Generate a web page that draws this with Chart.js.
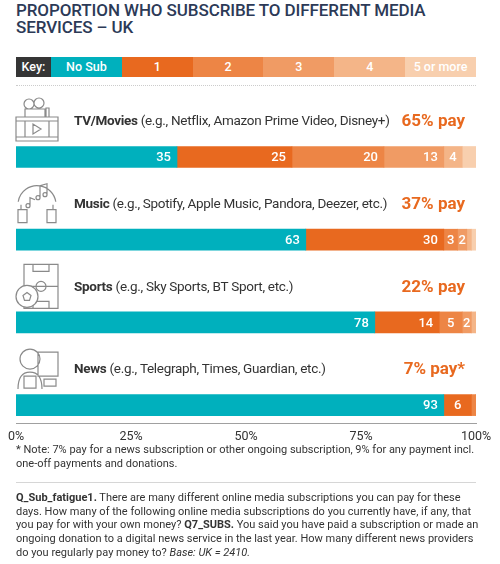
<!DOCTYPE html>
<html lang="en">
<head>
    <meta charset="UTF-8">
    <title>Proportion who subscribe to different media services - UK</title>
    <script src="https://cdn.jsdelivr.net/npm/chart.js@4/dist/chart.umd.min.js"></script>
    <style>
        html, body { margin: 0; padding: 0; background: #fff; }
        body { width: 500px; height: 564px; position: relative; overflow: hidden; font-family: Roboto, sans-serif; color: #333; }
        .title { position: absolute; left: 16px; top: 2px; font-size: 17px; font-weight: 500; line-height: 17px; color: #2c3a57; letter-spacing: -0.1px; }
        .key { position: absolute; left: 16px; top: 57px; width: 460px; height: 20px; display: flex; }
        .key div { height: 20px; line-height: 20px; text-align: center; color: #fff; font-size: 12.5px; font-weight: 500; }
        .dots { position: absolute; left: 16px; top: 85px; width: 460px; border-top: 1px dotted #ccc; }
        .wrap { position: absolute; left: 0; top: 88px; width: 500px; height: 354px; }
        .note { position: absolute; left: 16px; top: 443px; font-size: 11px; line-height: 14px; white-space: nowrap; }
        .rule { position: absolute; left: 16px; top: 482px; width: 460px; border-top: 1px solid #d6d6d6; }
        .source { position: absolute; left: 16px; top: 491px; font-size: 11px; line-height: 13.7px; white-space: nowrap; }
    </style>
</head>
<body>
<div class="title">PROPORTION WHO SUBSCRIBE TO DIFFERENT MEDIA<br>SERVICES – UK</div>
<div class="key" id="key"></div>
<div class="dots"></div>
<div class="wrap"><canvas id="chart"></canvas></div>
<div class="note">* Note: 7% pay for a news subscription or other ongoing subscription, 9% for any payment incl.<br>one-off payments and donations.</div>
<div class="rule"></div>
<div class="source"><b>Q_Sub_fatigue1.</b> There are many different online media subscriptions you can pay for these<br>days. How many of the following online media subscriptions do you currently have, if any, that<br>you pay for with your own money? <b>Q7_SUBS.</b> You said you have paid a subscription or made an<br>ongoing donation to a digital news service in the last year. How many different news providers<br>do you regularly pay money to? <i>Base: UK = 2410.</i></div>

<script type="text/javascript">
    // categories and texts
    var categories = ['TV/Movies', 'Music', 'Sports', 'News'];
    var examples = ['(e.g., Netflix, Amazon Prime Video, Disney+)',
        '(e.g., Spotify, Apple Music, Pandora, Deezer, etc.)',
        '(e.g., Sky Sports, BT Sport, etc.)',
        '(e.g., Telegraph, Times, Guardian, etc.)'];
    var payLabels = ['65% pay', '37% pay', '22% pay', '7% pay*'];

    // series (% of respondents)
    var seriesNames = ['No Sub', '1', '2', '3', '4', '5 or more'];
    var noSub = [35, 63, 78, 93];
    var one = [25, 30, 14, 6];
    var two = [20, 3, 5, 1];
    var three = [13, 2, 2, 0];
    var four = [4, 1, 1, 0];
    var fiveMore = [3, 1, 0, 0];
    var xTicks = [0, 25, 50, 75, 100];

    var colors = ['#00b0bd', '#e8691f', '#ed8545', '#f09b64', '#f4b588', '#f8cfae'];
    var series = [noSub, one, two, three, four, fiveMore];

    // key row
    var key = document.getElementById('key');
    var k = document.createElement('div');
    k.style.width = '35px';
    k.style.background = '#353535';
    k.textContent = 'Key:';
    key.appendChild(k);
    seriesNames.forEach(function (n, i) {
        var d = document.createElement('div');
        d.style.flex = '1';
        d.style.background = colors[i];
        d.textContent = n;
        key.appendChild(d);
    });

    var datasets = series.map(function (s, i) {
        return {
            label: seriesNames[i],
            data: s.map(function (v, j) { return {x: v, y: j}; }),
            backgroundColor: colors[i],
            borderWidth: 0,
            barThickness: 21
        };
    });

    // simple line icons to the left of each title
    function drawIcon(ctx, i, x, y) {
        ctx.save();
        ctx.strokeStyle = '#8a8a8a';
        ctx.lineWidth = 1.2;
        ctx.beginPath();
        if (i === 0) {
            ctx.rect(x, y + 18, 42, 24);
            ctx.moveTo(x, y + 22); ctx.lineTo(x + 42, y + 22);
            ctx.moveTo(x, y + 38); ctx.lineTo(x + 42, y + 38);
            ctx.moveTo(x + 9, y + 22); ctx.lineTo(x + 9, y + 38);
            ctx.moveTo(x + 33, y + 22); ctx.lineTo(x + 33, y + 38);
            ctx.moveTo(x + 17, y + 25); ctx.lineTo(x + 17, y + 35); ctx.lineTo(x + 25, y + 30); ctx.closePath();
            ctx.rect(x + 9, y + 10, 20, 8);
            ctx.moveTo(x + 18, y + 5); ctx.arc(x + 13, y + 5, 5, 0, Math.PI * 2);
            ctx.moveTo(x + 28, y + 4); ctx.arc(x + 23, y + 4, 5, 0, Math.PI * 2);
            ctx.rect(x + 30, y + 9, 3, 9);
        } else if (i === 1) {
            ctx.arc(x + 21, y + 23, 19, Math.PI * 1.05, Math.PI * 1.95);
            ctx.moveTo(x + 2, y + 28); ctx.lineTo(x + 2, y + 41); ctx.lineTo(x + 11, y + 41); ctx.lineTo(x + 11, y + 28); ctx.closePath();
            ctx.moveTo(x + 31, y + 28); ctx.lineTo(x + 31, y + 41); ctx.lineTo(x + 40, y + 41); ctx.lineTo(x + 40, y + 28); ctx.closePath();
            ctx.moveTo(x + 5, y + 28); ctx.lineTo(x + 5, y + 23);
            ctx.moveTo(x + 37, y + 28); ctx.lineTo(x + 37, y + 23);
            ctx.moveTo(x + 24, y + 16); ctx.lineTo(x + 24, y + 4); ctx.lineTo(x + 31, y + 2); ctx.lineTo(x + 31, y + 13);
            ctx.moveTo(x + 24, y + 16); ctx.arc(x + 22, y + 16, 2, 0, Math.PI * 2);
            ctx.moveTo(x + 31, y + 13); ctx.arc(x + 29, y + 13, 2, 0, Math.PI * 2);
            ctx.moveTo(x + 14, y + 24); ctx.lineTo(x + 14, y + 16); ctx.lineTo(x + 19, y + 18);
            ctx.moveTo(x + 14, y + 24); ctx.arc(x + 12, y + 24, 2, 0, Math.PI * 2);
        } else if (i === 2) {
            ctx.rect(x + 8, y, 34, 44);
            ctx.moveTo(x + 8, y + 22); ctx.lineTo(x + 42, y + 22);
            ctx.moveTo(x + 30, y + 22); ctx.arc(x + 25, y + 22, 5, 0, Math.PI * 2);
            ctx.rect(x + 17, y, 16, 7);
            ctx.rect(x + 17, y + 37, 16, 7);
        } else {
            ctx.moveTo(x + 24, y + 12); ctx.arc(x + 14, y + 12, 10, 0, Math.PI * 2);
            ctx.moveTo(x + 2, y + 42); ctx.quadraticCurveTo(x + 2, y + 25, x + 14, y + 25); ctx.quadraticCurveTo(x + 26, y + 25, x + 26, y + 42);
            ctx.rect(x + 8, y + 29, 12, 12);
            ctx.rect(x + 22, y + 5, 20, 24);
            ctx.rect(x + 28, y + 32, 12, 7);
        }
        ctx.stroke();
        if (i === 2) {
            ctx.beginPath();
            ctx.fillStyle = '#fff';
            ctx.arc(x + 11, y + 32, 11, 0, Math.PI * 2);
            ctx.fill();
            ctx.stroke();
            ctx.beginPath();
            ctx.moveTo(x + 11, y + 28); ctx.lineTo(x + 15, y + 31); ctx.lineTo(x + 13.5, y + 36); ctx.lineTo(x + 8.5, y + 36); ctx.lineTo(x + 7, y + 31); ctx.closePath();
            ctx.stroke();
        }
        ctx.restore();
    }

    var textPlugin = {
        id: 'rowTexts',
        afterDraw: function (chart) {
            var ctx = chart.ctx, yScale = chart.scales.y, area = chart.chartArea;
            ctx.save();
            categories.forEach(function (c, i) {
                var yc = yScale.getPixelForValue(i) - 35;
                drawIcon(ctx, i, 16, yc - 23);
                ctx.textBaseline = 'middle';
                ctx.textAlign = 'left';
                ctx.fillStyle = '#333';
                ctx.letterSpacing = '-0.3px';
                ctx.font = 'bold 13.5px Roboto, sans-serif';
                ctx.fillText(c, 74, yc);
                var w = ctx.measureText(c + ' ').width;
                ctx.font = '13.5px Roboto, sans-serif';
                ctx.fillText(examples[i], 74 + w, yc);
                ctx.letterSpacing = '0px';
                ctx.textAlign = 'right';
                ctx.fillStyle = '#e8691f';
                ctx.font = 'bold 17px Roboto, sans-serif';
                ctx.fillText(payLabels[i], area.right - 11, yc);
            });

            // value labels inside the segments
            ctx.fillStyle = '#fff';
            ctx.font = '500 13px Roboto, sans-serif';
            ctx.textBaseline = 'middle';
            chart.data.datasets.forEach(function (ds, di) {
                if (di === 5) return;
                chart.getDatasetMeta(di).data.forEach(function (el, j) {
                    var v = ds.data[j].x;
                    if (v < 2) return;
                    var w = el.x - el.base;
                    if (w < 30) {
                        ctx.textAlign = 'center';
                        ctx.fillText(v, el.base + w / 2, el.y + 1);
                    } else {
                        ctx.textAlign = 'right';
                        ctx.fillText(v, el.x - 6, el.y + 1);
                    }
                });
            });
            ctx.restore();
        }
    };

    var chart = new Chart(document.getElementById('chart').getContext('2d'), {
        type: 'bar',
        data: {datasets: datasets},
        options: {
            indexAxis: 'y',
            responsive: true,
            maintainAspectRatio: false,
            animation: false,
            layout: {padding: {left: 16, right: 24, top: 0, bottom: 0}},
            plugins: {legend: {display: false}, tooltip: {enabled: false}},
            scales: {
                x: {
                    stacked: true,
                    min: 0,
                    max: 100,
                    afterBuildTicks: function (axis) {
                        axis.ticks = xTicks.map(function (v) { return {value: v}; });
                    },
                    ticks: {
                        color: '#333',
                        padding: 6,
                        font: {family: 'Roboto', size: 12.5},
                        maxRotation: 0,
                        callback: function (v) { return v + '%'; }
                    },
                    grid: {display: false, drawTicks: false},
                    border: {color: '#a0a0a0', width: 1}
                },
                y: {
                    type: 'linear',
                    stacked: true,
                    reverse: true,
                    offset: false,
                    bounds: 'data',
                    min: -0.8,
                    max: 3.2,
                    display: false
                }
            }
        },
        plugins: [textPlugin]
    });

    // fit plot area to the page: axis line at y=423, first row centred at y=157, rows 82.7px apart
    var wrap = document.querySelector('.wrap');
    var area = chart.chartArea;
    wrap.style.height = (wrap.clientHeight + (423 - 88) - area.bottom) + 'px';
    chart.resize();
    area = chart.chartArea;
    var rowGap = 82.7, firstRow = 157 - 88;
    chart.options.scales.y.min = -(firstRow - area.top) / rowGap;
    chart.options.scales.y.max = chart.options.scales.y.min + (area.bottom - area.top) / rowGap;
    chart.update();
</script>
</body>
</html>
